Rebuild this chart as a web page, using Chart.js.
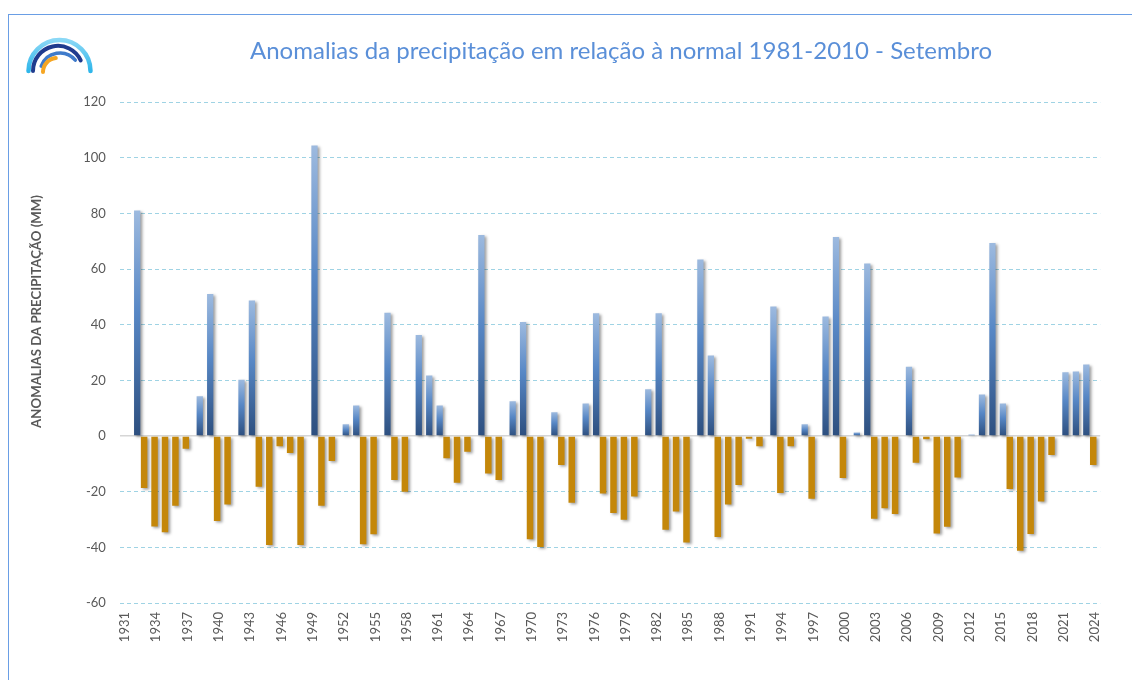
<!DOCTYPE html>
<html>
<head>
<meta charset="utf-8">
<script src="https://cdn.jsdelivr.net/npm/chart.js@4.4.1/dist/chart.umd.min.js"></script>
<style>
  html, body { margin: 0; padding: 0; background: #ffffff; }
  #wrap { position: relative; width: 1132px; height: 680px; overflow: hidden; background: #fff; }
  #frame { position: absolute; left: 8px; top: 14px; right: -2px; bottom: -2px;
           border-left: 1px solid #6a9ee5; border-top: 1px solid #6a9ee5; }
  #logo { position: absolute; left: 0; top: 0; }
  #c { position: absolute; left: 0; top: 0; }
</style>
</head>
<body>
<div id="wrap">
  <div id="frame"></div>
  <svg id="logo" width="120" height="90" viewBox="0 0 120 90">
    <defs>
      <linearGradient id="cy" x1="0" y1="0" x2="0" y2="1">
        <stop offset="0" stop-color="#8ad8f6"/>
        <stop offset="1" stop-color="#2fb6ea"/>
      </linearGradient>
    </defs>
    <path d="M 28.5 71 A 31 31 0 0 1 90.5 71" fill="none" stroke="url(#cy)" stroke-width="4.5" stroke-linecap="round"/>
    <path d="M 33 71 A 25 25 0 0 1 80.7 60.4" fill="none" stroke="#1f3b8e" stroke-width="4" stroke-linecap="round"/>
    <path d="M 41.2 66.2 A 20 20 0 0 1 75.3 60.1" fill="none" stroke="#3f7bcb" stroke-width="3.5" stroke-linecap="round"/>
    <path d="M 43 72 A 14 14 0 0 1 55.8 58.1" fill="none" stroke="#f6a623" stroke-width="4" stroke-linecap="round"/>
  </svg>
  <canvas id="c" width="1132" height="680"></canvas>
</div>
<script>
// ---- data ----
const years = [
  1931,1932,1933,1934,1935,1936,1937,1938,1939,1940,
  1941,1942,1943,1944,1945,1946,1947,1948,1949,1950,
  1951,1952,1953,1954,1955,1956,1957,1958,1959,1960,
  1961,1962,1963,1964,1965,1966,1967,1968,1969,1970,
  1971,1972,1973,1974,1975,1976,1977,1978,1979,1980,
  1981,1982,1983,1984,1985,1986,1987,1988,1989,1990,
  1991,1992,1993,1994,1995,1996,1997,1998,1999,2000,
  2001,2002,2003,2004,2005,2006,2007,2008,2009,2010,
  2011,2012,2013,2014,2015,2016,2017,2018,2019,2020,
  2021,2022,2023,2024
];
const anomalies = [
  0, 81, -18.7, -32.5, -34.6, -25.1, -4.6, 14.3, 51, -30.5,
  -24.6, 20.2, 48.7, -18.2, -39.2, -3.7, -6.1, -39.2, 104.4, -25.1,
  -9, 4.2, 11, -38.9, -35.3, 44.3, -15.8, -20, 36.3, 21.7,
  11, -8, -16.8, -5.7, 72.2, -13.5, -15.8, 12.5, 41, -37.1,
  -39.9, 8.5, -10.4, -24, 11.7, 44.1, -20.7, -27.7, -30.1, -21.7,
  16.8, 44.1, -33.7, -27.1, -38.3, 63.4, 28.9, -36.3, -24.6, -17.6,
  -1, -3.7, 46.5, -20.5, -3.7, 4.2, -22.5, 42.9, 71.5, -15.1,
  1.3, 62, -29.7, -26, -28, 24.9, -9.6, -1.2, -35, -32.6,
  -14.9, 0.5, 14.9, 69.3, 11.7, -19, -41.2, -35.2, -23.5, -6.8,
  22.9, 23.2, 25.7, -10.4
];
const labelStep = 3;
const yMin = -60, yMax = 120, yStep = 20;
const chartTitle = 'Anomalias da precipitação em relação à normal 1981-2010 - Setembro';
const yAxisTitle = 'ANOMALIAS DA PRECIPITAÇÃO (MM)';

// derived datasets
const negValues = anomalies.map(v => v < 0 ? v : null);
const posValues = anomalies.map(v => v >= 0 ? v : null);

// ---- text fitting ----
const mctx = document.createElement('canvas').getContext('2d');
function fitSize(text, weight, target) {
  mctx.font = weight + ' 100px Lato';
  return 100 * target / mctx.measureText(text).width;
}
const titleSize = fitSize(chartTitle, 'normal', 742);
const yTitleSize = fitSize(yAxisTitle, 'bold', 233);

// ---- styles ----
function posGradient(ctx) {
  const chart = ctx.chart;
  const sy = chart.scales && chart.scales.y;
  if (ctx.type !== 'data' || !sy || !chart.chartArea) return '#4f81bd';
  const v = ctx.raw;
  if (v === null || v === undefined) return '#4f81bd';
  const y0 = sy.getPixelForValue(0);
  const y1 = sy.getPixelForValue(v);
  if (!isFinite(y0) || !isFinite(y1) || Math.abs(y0 - y1) < 0.5) return '#4f81bd';
  const g = chart.ctx.createLinearGradient(0, y1, 0, y0);
  g.addColorStop(0, '#9dbadf');
  g.addColorStop(0.45, '#5787c5');
  g.addColorStop(1, '#2d4f7f');
  return g;
}

const shadowPlugin = {
  id: 'barShadow',
  beforeDatasetsDraw(chart) {
    const c = chart.ctx;
    c.save();
    c.shadowColor = 'rgba(0,0,0,0.38)';
    c.shadowBlur = 3;
    c.shadowOffsetX = 2;
    c.shadowOffsetY = 1.5;
  },
  afterDatasetsDraw(chart) { chart.ctx.restore(); }
};

const textPlugin = {
  id: 'texts',
  afterDraw(chart) {
    const c = chart.ctx;
    c.save();
    c.font = titleSize.toFixed(2) + 'px Lato';
    c.fillStyle = '#5a8fd8';
    c.textAlign = 'center';
    c.textBaseline = 'alphabetic';
    c.fillText(chartTitle, 621, 58.5);
    c.restore();

    c.save();
    c.translate(40.5, 311.5);
    c.rotate(-Math.PI / 2);
    c.font = 'bold ' + yTitleSize.toFixed(2) + 'px Lato';
    c.fillStyle = '#595959';
    c.textAlign = 'center';
    c.textBaseline = 'alphabetic';
    c.fillText(yAxisTitle, 0, 0);
    c.restore();
  }
};

new Chart(document.getElementById('c'), {
  type: 'bar',
  data: {
    labels: years,
    datasets: [
      {
        label: 'negativas',
        data: negValues,
        backgroundColor: '#c4870a',
        borderWidth: 0,
        categoryPercentage: 0.67,
        barPercentage: 1.86
      },
      {
        label: 'positivas',
        data: posValues,
        backgroundColor: posGradient,
        borderWidth: 0,
        categoryPercentage: 0.67,
        barPercentage: 1.80
      }
    ]
  },
  options: {
    responsive: false,
    devicePixelRatio: 1,
    animation: false,
    layout: { padding: { left: 20, right: 31.8, top: 102, bottom: 0 } },
    plugins: {
      legend: { display: false },
      tooltip: { enabled: false },
      title: { display: false }
    },
    scales: {
      x: {
        type: 'category',
        offset: true,
        grid: { display: false, drawTicks: false },
        border: { display: false },
        ticks: {
          autoSkip: false,
          minRotation: 90,
          maxRotation: 90,
          padding: 9,
          color: '#595959',
          font: { family: 'Lato', size: 13 },
          callback: (val, i) => (i % labelStep === 0 ? String(years[i]) : '')
        },
        afterFit: (s) => { s.height = 77; }
      },
      y: {
        min: yMin,
        max: yMax,
        ticks: {
          stepSize: yStep,
          padding: 14,
          color: '#595959',
          font: { family: 'Lato', size: 13 }
        },
        grid: {
          drawTicks: false,
          color: (ctx) => (ctx.tick && ctx.tick.value === 0 ? '#d6d6d6' : '#9fd3e4'),
          lineWidth: (ctx) => (ctx.tick && ctx.tick.value === 0 ? 1.6 : 1)
        },
        border: {
          display: false,
          dash: (ctx) => (ctx.tick && ctx.tick.value === 0 ? [] : [4, 3])
        },
        afterFit: (s) => { s.width = 99.8; }
      }
    }
  },
  plugins: [shadowPlugin, textPlugin]
});
</script>
</body>
</html>
